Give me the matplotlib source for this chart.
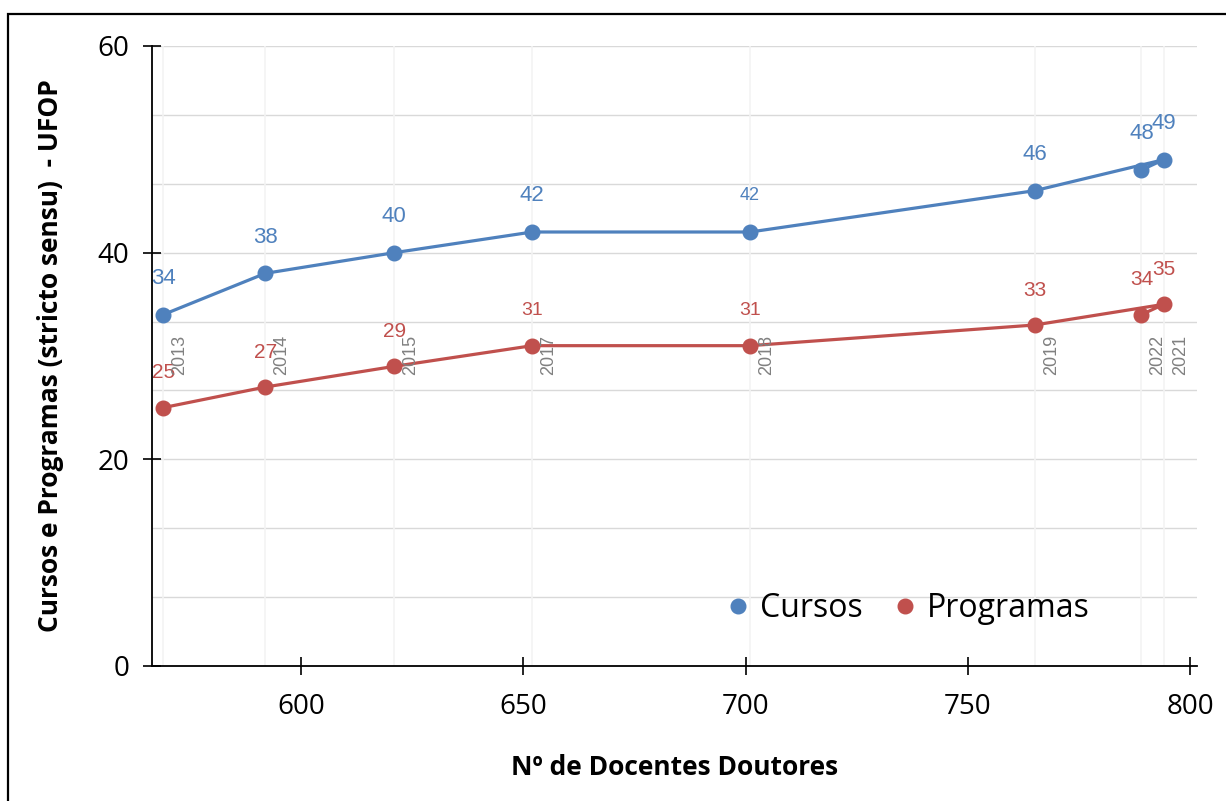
import matplotlib.pyplot as plt
from matplotlib.patches import Rectangle
from matplotlib.ticker import MultipleLocator

# data
anos = ["2013", "2014", "2015", "2017", "2018", "2019", "2021", "2022"]
docentes = [569, 592, 621, 652, 701, 765, 794, 789]
cursos = [34, 38, 40, 42, 42, 46, 49, 48]
programas = [25, 27, 29, 31, 31, 33, 35, 34]

azul = "#4f81bd"
vermelho = "#c0504d"

plt.rcParams["font.family"] = ["Open Sans", "DejaVu Sans"]

fig = plt.figure(figsize=(12.26, 8.01), dpi=100)
ax = fig.add_axes([152 / 1226, 135 / 801, 1045 / 1226, 620 / 801])

# moldura da figura
fig.patches.append(Rectangle((8 / 1226, -0.01), 1.05, (801 - 14) / 801 + 0.01,
                             transform=fig.transFigure, fill=False,
                             edgecolor="black", linewidth=1.6))

# linhas verticais claras em cada ponto
for x in docentes:
    ax.axvline(x, color="#f3f3f3", linewidth=1.2, zorder=1)

ax.plot(docentes, cursos, "-o", color=azul, linewidth=2.3, markersize=10.5, label="Cursos", zorder=3)
ax.plot(docentes, programas, "-o", color=vermelho, linewidth=2.3, markersize=10.5, label="Programas", zorder=3)

tam_cursos = [16, 16, 16, 16, 13, 16, 16, 16]
tam_prog = [15, 15, 15, 14, 14, 15, 15, 15]
for x, c, p, a, tc, tp in zip(docentes, cursos, programas, anos, tam_cursos, tam_prog):
    ax.annotate(str(c), (x, c), xytext=(0, 26), textcoords="offset points",
                ha="center", va="center", color=azul, fontsize=tc,
                family="Liberation Sans")
    ax.annotate(str(p), (x, p), xytext=(0, 25), textcoords="offset points",
                ha="center", va="center", color=vermelho, fontsize=tp,
                family="Liberation Sans")
    ax.annotate(a, (x, 28.2), xytext=(12, 0), textcoords="offset points",
                ha="center", va="bottom", rotation=90, color="#808080",
                fontsize=13, family="Liberation Sans")

ax.set_xlim(566.5, 801.5)
ax.set_ylim(0, 60)
ax.xaxis.set_major_locator(MultipleLocator(50))
ax.yaxis.set_major_locator(MultipleLocator(20))
ax.yaxis.set_minor_locator(MultipleLocator(20 / 3))
ax.grid(axis="y", which="both", color="#d9d9d9", linewidth=1.0, zorder=0)
ax.set_axisbelow(True)

for s in ["top", "right"]:
    ax.spines[s].set_visible(False)
for s in ["left", "bottom"]:
    ax.spines[s].set_linewidth(1.3)
    ax.spines[s].set_color("black")

ax.tick_params(axis="both", which="major", direction="inout", length=13, width=1.2,
               labelsize=20, colors="black")
ax.tick_params(axis="x", pad=13)
ax.tick_params(axis="y", pad=10)
ax.tick_params(axis="y", which="minor", length=0)

ax.set_xlabel("Nº de Docentes Doutores", fontsize=19, fontweight="bold", labelpad=24)
ax.set_ylabel("Cursos e Programas (stricto sensu)  - UFOP", fontsize=19,
              fontweight="bold", labelpad=24)

ax.legend(loc="lower right", bbox_to_anchor=(0.925, 0.02), ncol=2, frameon=False,
          fontsize=23, handlelength=0.6, handletextpad=0.4, columnspacing=1.0,
          markerscale=1.0)
for h in ax.get_legend().legend_handles:
    h.set_linestyle("none")

fig.savefig("out.png", dpi=100)
